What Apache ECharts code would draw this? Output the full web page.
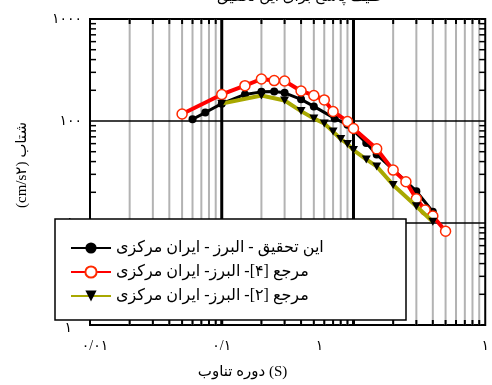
<!DOCTYPE html>
<html><head><meta charset="utf-8">
<script src="https://cdn.jsdelivr.net/npm/echarts@6/dist/echarts.min.js"></script>
<style>html,body{margin:0;padding:0;background:#fff}#c{width:492px;height:385px}</style>
</head><body><div id="c"></div>
<script>
const seriesNames = ['این تحقیق - البرز - ایران مرکزی', 'مرجع [۴]- البرز- ایران مرکزی', 'مرجع [۲]- البرز- ایران مرکزی'];
const periodsThis = [0.06, 0.075, 0.1, 0.15, 0.2, 0.25, 0.3, 0.4, 0.5, 0.72, 0.9, 1.25, 1.5, 3, 4];
const accelThis   = [104, 121, 148, 182, 193, 195, 189, 163, 139, 106, 92, 61, 47, 20.5, 12.9];
const periodsRef4 = [0.05, 0.1, 0.15, 0.2, 0.25, 0.3, 0.4, 0.5, 0.6, 0.7, 0.9, 1.0, 1.5, 2, 2.5, 3, 3.5, 4, 5];
const accelRef4   = [117, 182, 222, 258, 249, 247, 197, 178, 161, 124, 99, 84.5, 53.3, 33, 25.4, 17.3, 13.4, 11.7, 8.3];
const periodsRef2 = [0.1, 0.2, 0.3, 0.4, 0.5, 0.6, 0.7, 0.8, 0.9, 1.0, 1.25, 1.5, 2, 3, 4];
const accelRef2   = [148, 178, 159, 125, 106, 94.4, 78.7, 66.6, 59.6, 51.9, 42, 35.9, 23.6, 14.6, 10.3];
const xTickValues = [0.01, 0.1, 1, 10];
const xTickLabels = ['۰/۰۱', '۰/۱', '۱', '۱'];
const yTickValues = [1, 10, 100, 1000];
const yTickLabels = ['۱', '۱۰', '۱۰۰', '۱۰۰۰'];
const titleText = 'طیف پاسخ برای این تحقیق';
const xName = 'دوره تناوب (S)';
const yName = '(cm/s۲) شتاب';

const FONT = "'Liberation Serif', 'DejaVu Sans', serif";
const XMIN = xTickValues[0], XMAX = xTickValues[xTickValues.length - 1];
const YMIN = yTickValues[0], YMAX = yTickValues[yTickValues.length - 1];

function minorsOf(ticks) {
  const out = [];
  for (let i = 0; i < ticks.length - 1; i++)
    for (let k = 2; k <= 9; k++) out.push(+(k * ticks[i]).toPrecision(3));
  return out;
}
const xMinor = minorsOf(xTickValues);
const yMinor = minorsOf(yTickValues);
const xMajorInner = xTickValues.slice(1, -1);
const yMajorInner = yTickValues.slice(1, -1);

function idxOf(arr, v) {
  return arr.findIndex(t => Math.abs(Math.log10(t) - Math.log10(v)) < 1e-6);
}
const zip = (a, b) => a.map((v, i) => [v, b[i]]);

const chart = echarts.init(document.getElementById('c'), null, {renderer: 'canvas'});
chart.setOption({
  animation: false,
  backgroundColor: '#fff',
  title: {
    text: titleText, left: 212, top: 0, padding: [-10, 5, 5, 5],
    textStyle: {fontSize: 15, fontWeight: 'normal', color: '#000', fontFamily: FONT}
  },
  grid: {left: 90, right: 4, top: 19, bottom: 55, show: true, borderColor: '#000', borderWidth: 2, backgroundColor: 'transparent'},
  legend: {
    data: seriesNames, orient: 'vertical', left: 55, top: 219,
    padding: [20, 10, 15, 15], itemGap: 6, itemWidth: 40, itemHeight: 14,
    backgroundColor: '#fff', borderColor: '#000', borderWidth: 1.5, borderRadius: 0,
    textStyle: {fontSize: 16, lineHeight: 18, color: '#000', width: 280, fontFamily: FONT},
    z: 10
  },
  xAxis: {
    type: 'log', logBase: 10, min: XMIN, max: XMAX,
    axisLine: {show: false}, axisTick: {show: false}, splitLine: {show: false},
    axisLabel: {
      margin: 14, fontSize: 14, color: '#000', fontFamily: FONT,
      formatter: v => {
        const i = idxOf(xTickValues, v);
        if (i < 0) return '';
        if (i === 0) return '{l|' + xTickLabels[i] + '}';
        if (i === 2) return '{m|' + xTickLabels[i] + '}';
        return xTickLabels[i];
      },
      rich: {
        l: {padding: [0, 0, 0, 10], fontSize: 14, fontFamily: FONT, color: '#000'},
        m: {padding: [0, 68, 0, 0], fontSize: 14, fontFamily: FONT, color: '#000'}
      }
    },
    name: xName, nameLocation: 'middle', nameGap: 40,
    nameTextStyle: {fontSize: 15, color: '#000', fontFamily: FONT, padding: [0, 90, 0, 0]}
  },
  yAxis: {
    type: 'log', logBase: 10, min: YMIN, max: YMAX,
    axisLine: {show: false}, axisTick: {show: false}, splitLine: {show: false},
    axisLabel: {
      margin: 8, fontSize: 14, color: '#000', fontFamily: FONT,
      formatter: v => {
        const i = idxOf(yTickValues, v);
        if (i < 0) return '';
        if (i === 0) return '{b|' + yTickLabels[i] + '}';
        return yTickLabels[i];
      },
      rich: {b: {padding: [6, 10, 0, 0], fontSize: 14, fontFamily: FONT, color: '#000'}}
    },
    name: yName, nameLocation: 'middle', nameGap: 60, nameRotate: 90,
    nameTextStyle: {fontSize: 15, color: '#000', fontFamily: FONT, padding: [0, 0, 0, 14]}
  },
  series: [
    {
      type: 'custom', silent: true, z: 1, data: xMinor.map(v => [v, YMIN]),
      renderItem: (p, api) => {
        const x = api.value(0);
        const a = api.coord([x, YMIN]), b = api.coord([x, YMAX]);
        return {type: 'group', children: [
          {type: 'line', shape: {x1: a[0], y1: a[1], x2: b[0], y2: b[1]}, style: {stroke: '#b3b3b3', lineWidth: 2}},
          {type: 'line', shape: {x1: b[0], y1: b[1], x2: b[0], y2: b[1] + 5}, style: {stroke: '#000', lineWidth: 2}},
          {type: 'line', shape: {x1: a[0], y1: a[1], x2: a[0], y2: a[1] - 5}, style: {stroke: '#000', lineWidth: 2}}
        ]};
      }
    },
    {
      type: 'custom', silent: true, z: 1, data: xMajorInner.map(v => [v, YMIN]),
      renderItem: (p, api) => {
        const x = api.value(0);
        const a = api.coord([x, YMIN]), b = api.coord([x, YMAX]);
        return {type: 'line', shape: {x1: a[0], y1: a[1], x2: b[0], y2: b[1]}, style: {stroke: '#000', lineWidth: 3}};
      }
    },
    {
      type: 'custom', silent: true, z: 1, data: yMajorInner.map(v => [XMIN, v]),
      renderItem: (p, api) => {
        const y = api.value(1);
        const a = api.coord([XMIN, y]), b = api.coord([XMAX, y]);
        return {type: 'line', shape: {x1: a[0], y1: a[1], x2: b[0], y2: b[1]}, style: {stroke: '#000', lineWidth: 1.6}};
      }
    },
    {
      type: 'custom', silent: true, z: 1, data: yMinor.map(v => [XMIN, v]),
      renderItem: (p, api) => {
        const y = api.value(1);
        const a = api.coord([XMIN, y]), b = api.coord([XMAX, y]);
        return {type: 'group', children: [
          {type: 'line', shape: {x1: a[0], y1: a[1], x2: a[0] + 6, y2: a[1]}, style: {stroke: '#000', lineWidth: 1.5}},
          {type: 'line', shape: {x1: b[0], y1: b[1], x2: b[0] - 6, y2: b[1]}, style: {stroke: '#000', lineWidth: 1.5}}
        ]};
      }
    },
    {
      name: seriesNames[0], type: 'line', z: 3, data: zip(periodsThis, accelThis),
      symbol: 'circle', symbolSize: 8,
      lineStyle: {color: '#000', width: 3}, itemStyle: {color: '#000'}
    },
    {
      name: seriesNames[1], type: 'line', z: 4, data: zip(periodsRef4, accelRef4),
      symbol: 'circle', symbolSize: 10,
      lineStyle: {color: '#ff0000', width: 4}, itemStyle: {color: '#fff', borderColor: '#ff2a00', borderWidth: 1.5}
    },
    {
      name: seriesNames[2], type: 'line', z: 5, data: zip(periodsRef2, accelRef2),
      symbol: 'triangle', symbolRotate: 180, symbolSize: [9, 8],
      lineStyle: {color: '#a8a800', width: 4}, itemStyle: {color: '#000'}
    }
  ]
});
</script>
</body></html>
